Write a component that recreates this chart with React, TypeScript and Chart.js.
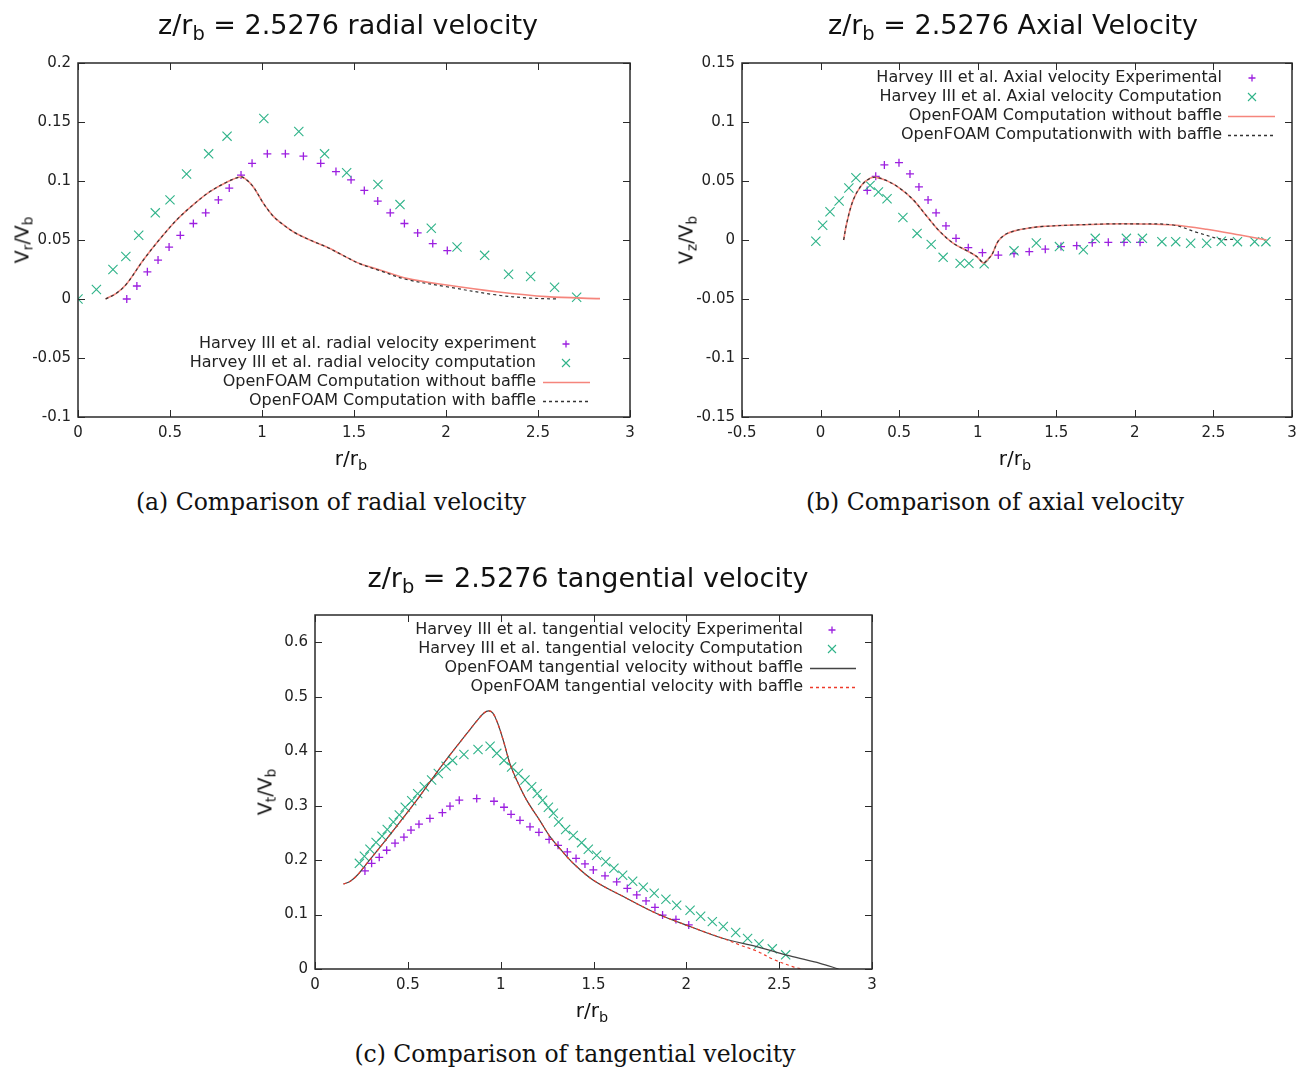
import React, { useEffect, useRef } from "react";
import { Chart, registerables } from "chart.js";

Chart.register(...registerables);

// ---------- Chart (a) radial velocity ----------
const aExpX = [0.265, 0.32, 0.377, 0.435, 0.495, 0.556, 0.627, 0.694, 0.763, 0.822, 0.886, 0.946, 1.029, 1.127, 1.225, 1.319, 1.402, 1.484, 1.556, 1.629, 1.697, 1.774, 1.846, 1.928, 2.007];
const aExpY = [0, 0.011, 0.023, 0.033, 0.044, 0.054, 0.064, 0.073, 0.084, 0.094, 0.105, 0.115, 0.123, 0.123, 0.121, 0.115, 0.108, 0.101, 0.092, 0.083, 0.073, 0.064, 0.056, 0.047, 0.041];
const aCompX = [0, 0.1, 0.19, 0.26, 0.33, 0.42, 0.5, 0.59, 0.71, 0.81, 1.01, 1.2, 1.34, 1.46, 1.63, 1.75, 1.92, 2.06, 2.21, 2.34, 2.46, 2.59, 2.71];
const aCompY = [0, 0.008, 0.025, 0.036, 0.054, 0.073, 0.084, 0.106, 0.123, 0.138, 0.153, 0.142, 0.123, 0.107, 0.097, 0.08, 0.06, 0.044, 0.037, 0.021, 0.019, 0.01, 0.0015];
const aNoBaffleX = [0.15, 0.21, 0.265, 0.355, 0.446, 0.536, 0.627, 0.717, 0.808, 0.88, 0.908, 0.953, 1.008, 1.062, 1.107, 1.17, 1.26, 1.352, 1.44, 1.53, 1.641, 1.786, 2.004, 2.275, 2.547, 2.837];
const aNoBaffleY = [0, 0.005, 0.013, 0.033, 0.051, 0.067, 0.08, 0.091, 0.099, 0.1034, 0.102, 0.095, 0.081, 0.07, 0.064, 0.057, 0.05, 0.044, 0.037, 0.03, 0.0246, 0.0175, 0.0119, 0.0062, 0.002, 0.0003];
const aBaffleX = [0.15, 0.21, 0.265, 0.355, 0.446, 0.536, 0.627, 0.717, 0.808, 0.88, 0.908, 0.953, 1.008, 1.062, 1.107, 1.17, 1.26, 1.352, 1.44, 1.53, 1.641, 1.786, 2.004, 2.275, 2.45, 2.61];
const aBaffleY = [0, 0.005, 0.013, 0.033, 0.051, 0.067, 0.08, 0.091, 0.099, 0.1034, 0.102, 0.095, 0.081, 0.07, 0.064, 0.057, 0.05, 0.044, 0.037, 0.03, 0.024, 0.0165, 0.0104, 0.0034, 0.0008, 0];
const aXTicks = [0, 0.5, 1, 1.5, 2, 2.5, 3];
const aXLabels = ["0", "0.5", "1", "1.5", "2", "2.5", "3"];
const aYTicks = [-0.1, -0.05, 0, 0.05, 0.1, 0.15, 0.2];
const aYLabels = ["-0.1", "-0.05", "0", "0.05", "0.1", "0.15", "0.2"];
const aLegend = [
  "Harvey III et al. radial velocity experiment",
  "Harvey III et al. radial velocity computation",
  "OpenFOAM Computation without baffle",
  "OpenFOAM Computation with baffle",
];

// ---------- Chart (b) axial velocity ----------
const bExpX = [0.297, 0.351, 0.406, 0.499, 0.569, 0.626, 0.684, 0.735, 0.798, 0.862, 0.94, 1.03, 1.131, 1.231, 1.328, 1.43, 1.53, 1.63, 1.729, 1.831, 1.931, 2.033];
const bExpY = [0.042, 0.054, 0.0636, 0.0655, 0.056, 0.045, 0.034, 0.023, 0.0119, 0.0014, -0.0065, -0.0107, -0.0128, -0.0115, -0.0099, -0.0078, -0.0056, -0.0048, -0.0023, -0.002, -0.002, -0.002];
const bCompX = [-0.03, 0.0135, 0.06, 0.118, 0.18, 0.225, 0.315, 0.368, 0.423, 0.524, 0.614, 0.704, 0.78, 0.888, 0.944, 1.041, 1.231, 1.373, 1.52, 1.672, 1.748, 1.946, 2.048, 2.172, 2.26, 2.355, 2.457, 2.55, 2.653, 2.762, 2.834];
const bCompY = [-0.0011, 0.0125, 0.024, 0.033, 0.044, 0.0528, 0.0463, 0.0407, 0.035, 0.019, 0.0056, -0.0037, -0.0147, -0.0198, -0.0198, -0.0202, -0.0092, -0.0025, -0.0056, -0.0083, 0.0014, 0.0014, 0.0014, -0.0014, -0.0014, -0.0028, -0.0028, -0.001, -0.0014, -0.0014, -0.0014];
const bNoBaffleX = [0.147, 0.166, 0.208, 0.262, 0.315, 0.353, 0.421, 0.505, 0.59, 0.675, 0.76, 0.845, 0.93, 0.994, 1.036, 1.06, 1.09, 1.13, 1.18, 1.25, 1.312, 1.397, 1.608, 1.82, 2.033, 2.245, 2.457, 2.669, 2.839];
const bNoBaffleY = [0, 0.014, 0.034, 0.0466, 0.0523, 0.0531, 0.0503, 0.0438, 0.034, 0.0203, 0.007, -0.0028, -0.009, -0.014, -0.0195, -0.017, -0.0125, -0.001, 0.005, 0.0083, 0.0098, 0.0113, 0.0127, 0.0136, 0.0136, 0.0127, 0.0091, 0.0042, 0];
const bBaffleX = [0.147, 0.166, 0.208, 0.262, 0.315, 0.353, 0.421, 0.505, 0.59, 0.675, 0.76, 0.845, 0.93, 0.994, 1.036, 1.06, 1.09, 1.13, 1.18, 1.25, 1.312, 1.397, 1.608, 1.82, 2.033, 2.245, 2.394, 2.553, 2.627];
const bBaffleY = [0, 0.014, 0.034, 0.0466, 0.0523, 0.0531, 0.0503, 0.0438, 0.034, 0.0203, 0.007, -0.0028, -0.009, -0.014, -0.0195, -0.017, -0.0125, -0.001, 0.005, 0.0083, 0.0098, 0.0113, 0.0127, 0.0136, 0.0136, 0.0127, 0.0065, 0.0006, 0.0006];
const bXTicks = [-0.5, 0, 0.5, 1, 1.5, 2, 2.5, 3];
const bXLabels = ["-0.5", "0", "0.5", "1", "1.5", "2", "2.5", "3"];
const bYTicks = [-0.15, -0.1, -0.05, 0, 0.05, 0.1, 0.15];
const bYLabels = ["-0.15", "-0.1", "-0.05", "0", "0.05", "0.1", "0.15"];
const bLegend = [
  "Harvey III et al. Axial velocity Experimental",
  "Harvey III et al. Axial velocity Computation",
  "OpenFOAM Computation without baffle",
  "OpenFOAM Computationwith with baffle",
];

// ---------- Chart (c) tangential velocity ----------
const cExpX = [0.269, 0.305, 0.346, 0.386, 0.431, 0.479, 0.517, 0.56, 0.619, 0.686, 0.727, 0.777, 0.871, 0.964, 1.018, 1.056, 1.104, 1.158, 1.206, 1.261, 1.309, 1.359, 1.406, 1.454, 1.499, 1.562, 1.625, 1.682, 1.733, 1.783, 1.831, 1.872, 1.944, 2.013];
const cExpY = [0.18, 0.194, 0.205, 0.218, 0.231, 0.242, 0.255, 0.266, 0.2765, 0.287, 0.299, 0.31, 0.313, 0.308, 0.297, 0.284, 0.273, 0.261, 0.251, 0.238, 0.227, 0.215, 0.203, 0.193, 0.182, 0.171, 0.16, 0.148, 0.136, 0.125, 0.113, 0.099, 0.091, 0.081];
const cCompX = [0.239, 0.266, 0.296, 0.329, 0.361, 0.389, 0.422, 0.454, 0.486, 0.521, 0.553, 0.589, 0.628, 0.664, 0.706, 0.741, 0.802, 0.878, 0.943, 0.979, 1.018, 1.059, 1.095, 1.131, 1.167, 1.197, 1.226, 1.257, 1.284, 1.312, 1.35, 1.391, 1.436, 1.472, 1.517, 1.566, 1.61, 1.657, 1.711, 1.768, 1.827, 1.89, 1.948, 2.02, 2.077, 2.14, 2.199, 2.266, 2.33, 2.391, 2.463, 2.535];
const cCompY = [0.194, 0.207, 0.22, 0.2325, 0.244, 0.256, 0.27, 0.283, 0.297, 0.309, 0.322, 0.3345, 0.347, 0.359, 0.3725, 0.383, 0.394, 0.403, 0.409, 0.396, 0.383, 0.371, 0.359, 0.347, 0.3345, 0.322, 0.31, 0.297, 0.286, 0.27, 0.256, 0.245, 0.232, 0.22, 0.209, 0.197, 0.185, 0.172, 0.161, 0.15, 0.139, 0.128, 0.117, 0.108, 0.097, 0.087, 0.078, 0.067, 0.056, 0.046, 0.037, 0.026];
const cNoBaffleX = [0.153, 0.19, 0.23, 0.27, 0.368, 0.458, 0.548, 0.637, 0.727, 0.817, 0.875, 0.91, 0.935, 0.958, 0.983, 1.014, 1.05, 1.086, 1.14, 1.212, 1.266, 1.319, 1.391, 1.499, 1.661, 1.84, 2.02, 2.199, 2.379, 2.558, 2.72, 2.82];
const cNoBaffleY = [0.156, 0.161, 0.173, 0.19, 0.231, 0.27, 0.31, 0.352, 0.393, 0.432, 0.457, 0.47, 0.474, 0.47, 0.452, 0.42, 0.377, 0.347, 0.31, 0.272, 0.243, 0.221, 0.194, 0.163, 0.133, 0.102, 0.078, 0.056, 0.041, 0.024, 0.0104, 0];
const cBaffleX = [0.153, 0.19, 0.23, 0.27, 0.368, 0.458, 0.548, 0.637, 0.727, 0.817, 0.875, 0.91, 0.935, 0.958, 0.983, 1.014, 1.05, 1.086, 1.14, 1.212, 1.266, 1.319, 1.391, 1.499, 1.661, 1.84, 2.02, 2.199, 2.289, 2.379, 2.468, 2.576, 2.62];
const cBaffleY = [0.156, 0.161, 0.173, 0.19, 0.231, 0.27, 0.31, 0.352, 0.393, 0.432, 0.457, 0.47, 0.474, 0.47, 0.452, 0.42, 0.377, 0.347, 0.31, 0.272, 0.243, 0.221, 0.194, 0.163, 0.133, 0.102, 0.078, 0.056, 0.044, 0.033, 0.0178, 0.004, 0];
const cXTicks = [0, 0.5, 1, 1.5, 2, 2.5, 3];
const cXLabels = ["0", "0.5", "1", "1.5", "2", "2.5", "3"];
const cYTicks = [0, 0.1, 0.2, 0.3, 0.4, 0.5, 0.6];
const cYLabels = ["0", "0.1", "0.2", "0.3", "0.4", "0.5", "0.6"];
const cLegend = [
  "Harvey III et al. tangential velocity Experimental",
  "Harvey III et al. tangential velocity Computation",
  "OpenFOAM tangential velocity without baffle",
  "OpenFOAM tangential velocity with baffle",
];

const PURPLE = "#9c1fe0";
const GREEN = "#2fb389";
const SALMON = "#f5857c";
const DARK = "#333333";
const FONT = "'DejaVu Sans', sans-serif";

const zip = (xs: number[], ys: number[]) => xs.map((x, i) => ({ x, y: ys[i] }));

const expSet = (label: string, xs: number[], ys: number[]) => ({
  label, data: zip(xs, ys), showLine: false, pointStyle: "cross", pointRadius: 4,
  pointHoverRadius: 4, borderColor: PURPLE, backgroundColor: PURPLE, pointBorderWidth: 1.3, order: 3,
});
const compSet = (label: string, xs: number[], ys: number[]) => ({
  label, data: zip(xs, ys), showLine: false, pointStyle: "crossRot", pointRadius: 6.5,
  pointHoverRadius: 6.5, borderColor: GREEN, backgroundColor: GREEN, pointBorderWidth: 1.1, order: 2,
});
const lineSet = (label: string, xs: number[], ys: number[], color: string, dash: number[], width: number, order: number) => ({
  label, data: zip(xs, ys), showLine: true, pointRadius: 0, pointHoverRadius: 0, borderColor: color,
  backgroundColor: color, borderWidth: width, borderDash: dash, tension: 0.35, fill: false, order,
});

const gpPlugin = {
  id: "gp",
  afterDatasetsDraw(chart: any, _args: any, opts: any) {
    const { ctx, chartArea: a, scales } = chart;
    ctx.save();
    ctx.strokeStyle = "#2a2a2a";
    ctx.lineWidth = 1;
    const tl = 7;
    ctx.beginPath();
    for (const t of scales.x.ticks) {
      const px = Math.round(scales.x.getPixelForValue(t.value)) + 0.5;
      ctx.moveTo(px, a.bottom); ctx.lineTo(px, a.bottom - tl);
      ctx.moveTo(px, a.top); ctx.lineTo(px, a.top + tl);
    }
    for (const t of scales.y.ticks) {
      const py = Math.round(scales.y.getPixelForValue(t.value)) + 0.5;
      ctx.moveTo(a.left, py); ctx.lineTo(a.left + tl, py);
      ctx.moveTo(a.right, py); ctx.lineTo(a.right - tl, py);
    }
    ctx.stroke();
    ctx.lineWidth = 1.5;
    ctx.strokeRect(a.left, a.top, a.right - a.left, a.bottom - a.top);

    // gnuplot-style key
    ctx.font = `16px ${FONT}`;
    ctx.textAlign = "right";
    ctx.textBaseline = "middle";
    chart.data.datasets.forEach((ds: any, i: number) => {
      const y = a.top + opts.y0 + i * opts.rowH;
      ctx.fillStyle = "#222";
      ctx.fillText(ds.label, a.right - opts.textR, y);
      ctx.strokeStyle = ds.borderColor;
      if (ds.showLine) {
        ctx.lineWidth = Math.max(1.4, ds.borderWidth);
        ctx.setLineDash(ds.borderDash || []);
        ctx.beginPath();
        ctx.moveTo(a.right - opts.l0, y + 0.5);
        ctx.lineTo(a.right - opts.l1, y + 0.5);
        ctx.stroke();
        ctx.setLineDash([]);
      } else {
        const cx = a.right - opts.m;
        ctx.lineWidth = ds.pointBorderWidth;
        ctx.beginPath();
        if (ds.pointStyle === "cross") {
          const r = 3.5;
          ctx.moveTo(cx - r, y); ctx.lineTo(cx + r, y);
          ctx.moveTo(cx, y - r); ctx.lineTo(cx, y + r);
        } else {
          const d = 4;
          ctx.moveTo(cx - d, y - d); ctx.lineTo(cx + d, y + d);
          ctx.moveTo(cx - d, y + d); ctx.lineTo(cx + d, y - d);
        }
        ctx.stroke();
      }
    });
    ctx.restore();
  },
};

type Spec = {
  canvas: { left: number; top: number; w: number; h: number };
  area: { l: number; t: number; r: number; b: number };
  xMin: number; xMax: number; yMin: number; yMax: number;
  xTicks: number[]; xLabels: string[]; yTicks: number[]; yLabels: string[];
  datasets: any[];
  legend: any;
};

function GPChart({ spec }: { spec: Spec }) {
  const ref = useRef<HTMLCanvasElement | null>(null);
  useEffect(() => {
    const { canvas: c, area } = spec;
    const yWidth = area.l - c.left;
    const xHeight = c.top + c.h - area.b;
    const tickFont = { family: FONT, size: 15 };
    const chart = new Chart(ref.current as HTMLCanvasElement, {
      type: "scatter",
      data: { datasets: spec.datasets },
      options: {
        responsive: false,
        animation: false,
        devicePixelRatio: 1,
        layout: { padding: { top: area.t - c.top, right: c.left + c.w - area.r, left: 0, bottom: 0 } },
        plugins: { legend: { display: false }, tooltip: { enabled: false }, gp: spec.legend } as any,
        scales: {
          x: {
            type: "linear", min: spec.xMin, max: spec.xMax,
            afterBuildTicks: (s: any) => { s.ticks = spec.xTicks.map((v) => ({ value: v })); },
            afterFit: (s: any) => { s.height = xHeight; },
            grid: { display: false, drawTicks: false },
            border: { display: false },
            ticks: {
              autoSkip: false, maxRotation: 0, padding: 7, font: tickFont, color: "#222",
              callback: (_v: any, i: number) => spec.xLabels[i],
            },
          },
          y: {
            type: "linear", min: spec.yMin, max: spec.yMax,
            afterBuildTicks: (s: any) => { s.ticks = spec.yTicks.map((v) => ({ value: v })); },
            afterFit: (s: any) => { s.width = yWidth; },
            grid: { display: false, drawTicks: false },
            border: { display: false },
            ticks: {
              autoSkip: false, padding: 7, font: tickFont, color: "#222",
              callback: (_v: any, i: number) => spec.yLabels[i],
            },
          },
        },
      } as any,
      plugins: [gpPlugin],
    });
    return () => chart.destroy();
  }, []);
  const c = spec.canvas;
  return (
    <canvas
      ref={ref}
      width={c.w}
      height={c.h}
      style={{ position: "absolute", left: c.left, top: c.top, width: c.w, height: c.h }}
    />
  );
}

const specA: Spec = {
  canvas: { left: 0, top: 40, w: 660, h: 420 },
  area: { l: 78, t: 63, r: 630, b: 417 },
  xMin: 0, xMax: 3, yMin: -0.1, yMax: 0.2,
  xTicks: aXTicks, xLabels: aXLabels, yTicks: aYTicks, yLabels: aYLabels,
  datasets: [
    expSet(aLegend[0], aExpX, aExpY),
    compSet(aLegend[1], aCompX, aCompY),
    lineSet(aLegend[2], aNoBaffleX, aNoBaffleY, SALMON, [], 1.6, 1),
    lineSet(aLegend[3], aBaffleX, aBaffleY, DARK, [3, 3], 1.2, 0),
  ],
  legend: { textR: 94, l0: 87, l1: 40, m: 64, y0: 281, rowH: 19 },
};

const specB: Spec = {
  canvas: { left: 670, top: 40, w: 645, h: 420 },
  area: { l: 742, t: 63, r: 1292, b: 417 },
  xMin: -0.5, xMax: 3, yMin: -0.15, yMax: 0.15,
  xTicks: bXTicks, xLabels: bXLabels, yTicks: bYTicks, yLabels: bYLabels,
  datasets: [
    expSet(bLegend[0], bExpX, bExpY),
    compSet(bLegend[1], bCompX, bCompY),
    lineSet(bLegend[2], bNoBaffleX, bNoBaffleY, SALMON, [], 1.6, 1),
    lineSet(bLegend[3], bBaffleX, bBaffleY, DARK, [3, 3], 1.2, 0),
  ],
  legend: { textR: 70, l0: 64, l1: 17, m: 40, y0: 15, rowH: 19 },
};

const specC: Spec = {
  canvas: { left: 240, top: 595, w: 660, h: 410 },
  area: { l: 315, t: 615, r: 872, b: 969 },
  xMin: 0, xMax: 3, yMin: 0, yMax: 0.65,
  xTicks: cXTicks, xLabels: cXLabels, yTicks: cYTicks, yLabels: cYLabels,
  datasets: [
    expSet(cLegend[0], cExpX, cExpY),
    compSet(cLegend[1], cCompX, cCompY),
    lineSet(cLegend[2], cNoBaffleX, cNoBaffleY, "#444444", [], 1.2, 1),
    lineSet(cLegend[3], cBaffleX, cBaffleY, "#ee3a2a", [3, 3], 1.2, 0),
  ],
  legend: { textR: 69, l0: 62, l1: 16, m: 40, y0: 15, rowH: 19 },
};

const subStyle: React.CSSProperties = { fontSize: "0.72em", verticalAlign: "-0.32em", lineHeight: 0 };

function Txt({ cx, cy, size, rotate, serif, children }: any) {
  return (
    <div
      style={{
        position: "absolute", left: cx, top: cy, whiteSpace: "nowrap", lineHeight: 1,
        transform: `translate(-50%, -50%)${rotate ? " rotate(-90deg)" : ""}`,
        fontFamily: serif ? "'DejaVu Serif', serif" : FONT, fontSize: size, color: "#111",
      }}
    >
      {children}
    </div>
  );
}

export default function App() {
  return (
    <div style={{ position: "absolute", left: 0, top: 0, width: 1315, height: 1072, background: "#fff", overflow: "hidden" }}>
      <GPChart spec={specA} />
      <GPChart spec={specB} />
      <GPChart spec={specC} />

      <Txt cx={348} cy={24} size={27}>z/r<span style={subStyle}>b</span> = 2.5276 radial velocity</Txt>
      <Txt cx={1013} cy={24} size={27}>z/r<span style={subStyle}>b</span> = 2.5276 Axial Velocity</Txt>
      <Txt cx={588} cy={577} size={27}>z/r<span style={subStyle}>b</span> = 2.5276 tangential velocity</Txt>

      <Txt cx={22} cy={240} size={19} rotate>V<span style={subStyle}>r</span>/V<span style={subStyle}>b</span></Txt>
      <Txt cx={686} cy={240} size={19} rotate>V<span style={subStyle}>z</span>/V<span style={subStyle}>b</span></Txt>
      <Txt cx={265} cy={792} size={19} rotate>V<span style={subStyle}>t</span>/V<span style={subStyle}>b</span></Txt>

      <Txt cx={351} cy={458} size={20}>r/r<span style={subStyle}>b</span></Txt>
      <Txt cx={1015} cy={458} size={20}>r/r<span style={subStyle}>b</span></Txt>
      <Txt cx={592} cy={1010} size={20}>r/r<span style={subStyle}>b</span></Txt>

      <Txt cx={331} cy={503} size={23.5} serif>(a) Comparison of radial velocity</Txt>
      <Txt cx={995} cy={503} size={23.5} serif>(b) Comparison of axial velocity</Txt>
      <Txt cx={575} cy={1055} size={23.5} serif>(c) Comparison of tangential velocity</Txt>
    </div>
  );
}
